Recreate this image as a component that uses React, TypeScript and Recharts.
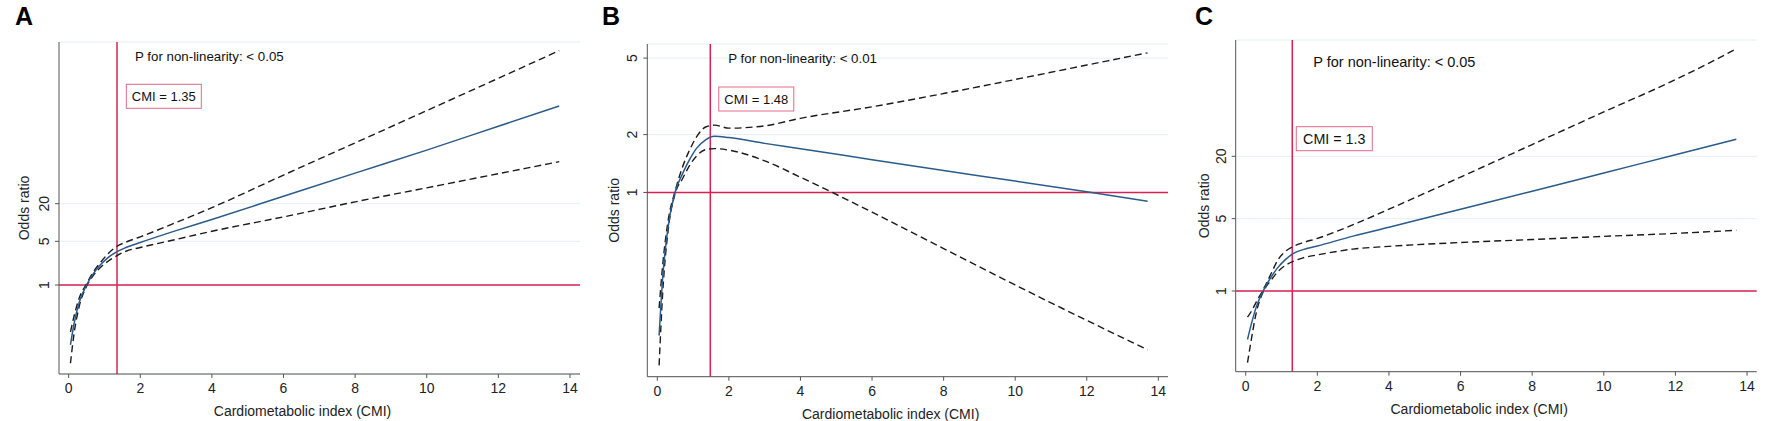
import { LineChart, Line, XAxis, YAxis, CartesianGrid, ReferenceLine, Label } from 'recharts'

// CMI grid the curves were read at
const CMI = [0.05, 0.15, 0.3, 0.5, 0.7, 0.9, 1.1, 1.35, 1.6, 2, 3, 4, 6, 8, 10, 12, 13.7]

// Panel A
const A_OR = [0.11, 0.24, 0.54, 1.0, 1.55, 2.14, 2.75, 3.43, 3.98, 4.79, 7.41, 11.2, 26.3, 61.7, 144, 347, 731]
const A_HI = [0.178, 0.316, 0.63, 1.05, 1.66, 2.34, 3.16, 4.17, 4.85, 5.9, 10.0, 17.3, 57.4, 188, 617, 2030, 5620]
const A_LO = [0.056, 0.166, 0.47, 0.955, 1.45, 1.95, 2.4, 2.95, 3.47, 3.98, 5.37, 7.24, 12.3, 21.4, 35.9, 60.3, 94]
const A_TICKS = [1, 5, 20]

// Panel B
const B_OR = [0.18, 0.36, 0.66, 1.01, 1.245, 1.48, 1.7, 1.88, 1.96, 1.93, 1.8, 1.69, 1.48, 1.3, 1.146, 1.007, 0.9]
const B_HI = [0.25, 0.42, 0.71, 1.02, 1.35, 1.66, 1.95, 2.19, 2.24, 2.16, 2.22, 2.43, 2.79, 3.27, 3.87, 4.6, 5.33]
const B_LO = [0.126, 0.3, 0.63, 0.99, 1.175, 1.38, 1.55, 1.67, 1.69, 1.66, 1.46, 1.2, 0.79, 0.51, 0.33, 0.216, 0.152]
const B_TICKS = [1, 2, 5]

// Panel C
const C_OR = [0.34, 0.47, 0.71, 1.02, 1.35, 1.69, 2.0, 2.32, 2.51, 2.72, 3.39, 4.13, 6.17, 9.2, 13.8, 20.7, 29.2]
const C_HI = [0.56, 0.63, 0.79, 1.05, 1.45, 2.0, 2.4, 2.72, 2.93, 3.22, 4.37, 6.17, 12.6, 26, 53.7, 110, 218]
const C_LO = [0.203, 0.33, 0.63, 1.0, 1.26, 1.54, 1.76, 1.95, 2.09, 2.23, 2.54, 2.7, 2.94, 3.14, 3.37, 3.6, 3.86]
const C_TICKS = [1, 5, 20]

const X_TICKS = [0, 2, 4, 6, 8, 10, 12, 14]

const RED = '#d9234f'
const BOX = '#e26a86'
const BLUE = '#2b5b8a'
const AXIS = '#555555'
const GRID = '#e4eff1'
const SANS = '"Liberation Sans", Arial, sans-serif'

const PANELS = [
  {
    letter: 'A', left: 0, width: 590, top: 42, bottom: 374, plotLeft: 59, plotRight: 580,
    xDomain: [-0.27, 14.28], yDomain: [0.0377, 7727], yTicks: A_TICKS,
    cut: 1.35, cutLabel: 'CMI = 1.35', pText: 'P for non-linearity: < 0.05',
    or: A_OR, hi: A_HI, lo: A_LO,
    pFont: 13.3, boxFont: 13, pDx: 18, pDy: 14, boxDx: 9.3, boxY: 84.3, boxW: 75,
  },
  {
    letter: 'B', left: 590, width: 590, top: 44, bottom: 376.7, plotLeft: 57.3, plotRight: 578,
    xDomain: [-0.28, 14.27], yDomain: [0.11, 5.92], yTicks: B_TICKS,
    cut: 1.48, cutLabel: 'CMI = 1.48', pText: 'P for non-linearity: < 0.01',
    or: B_OR, hi: B_HI, lo: B_LO,
    pFont: 13.3, boxFont: 13, pDx: 18, pDy: 14.3, boxDx: 8.5, boxY: 87, boxW: 75,
  },
  {
    letter: 'C', left: 1180, width: 592, top: 40, bottom: 371.7, plotLeft: 55.7, plotRight: 576.7,
    xDomain: [-0.28, 14.27], yDomain: [0.166, 266], yTicks: C_TICKS,
    cut: 1.3, cutLabel: 'CMI = 1.3', pText: 'P for non-linearity: < 0.05',
    or: C_OR, hi: C_HI, lo: C_LO,
    pFont: 14.5, boxFont: 14.3, pDx: 21, pDy: 21.7, boxDx: 4, boxY: 126.7, boxW: 76,
  },
]

type PanelCfg = (typeof PANELS)[number]

function YTick({ x, y, payload }: any) {
  return (
    <text
      x={x}
      y={y}
      transform={`rotate(-90, ${x}, ${y})`}
      textAnchor="middle"
      fontSize={14}
      fontFamily={SANS}
      fill="#222"
    >
      {payload.value}
    </text>
  )
}

function SplinePanel({ p }: { p: PanelCfg }) {
  const data = CMI.map((c, i) => ({ cmi: c, or: p.or[i], hi: p.hi[i], lo: p.lo[i] }))
  const height = 421
  const margin = { top: p.top, right: p.width - p.plotRight, bottom: height - p.bottom - 40, left: 0 }
  const midY = (p.top + p.bottom) / 2
  const midX = (p.plotLeft + p.plotRight) / 2 - 17

  return (
    <div style={{ position: 'absolute', left: p.left, top: 0 }}>
      <LineChart width={p.width} height={height} data={data} margin={margin}>
        <CartesianGrid horizontal vertical={false} stroke={GRID} strokeWidth={1} />
        <XAxis
          dataKey="cmi"
          type="number"
          domain={p.xDomain}
          ticks={X_TICKS}
          allowDataOverflow
          height={40}
          stroke={AXIS}
          tickSize={4}
          tickMargin={5}
          tick={{ fontSize: 14, fontFamily: SANS, fill: '#222' }}
        >
          <Label
            content={() => (
              <text x={midX} y={p.bottom + 42} textAnchor="middle" fontSize={14} fontFamily={SANS} fill="#222">
                Cardiometabolic index (CMI)
              </text>
            )}
          />
        </XAxis>
        <YAxis
          type="number"
          scale="log"
          domain={p.yDomain}
          ticks={p.yTicks}
          allowDataOverflow
          width={p.plotLeft}
          stroke={AXIS}
          tickSize={4}
          tickMargin={6}
          tick={<YTick />}
        >
          <Label
            content={() => (
              <g>
                <text
                  x={24}
                  y={midY}
                  transform={`rotate(-90, 24, ${midY})`}
                  textAnchor="middle"
                  dominantBaseline="central"
                  fontSize={14}
                  fontFamily={SANS}
                  fill="#222"
                >
                  Odds ratio
                </text>
                <text x={p.letter === 'B' ? 12 : 15} y={25} fontSize={25} fontWeight="bold" fontFamily={SANS} fill="#000">
                  {p.letter}
                </text>
              </g>
            )}
          />
        </YAxis>
        <ReferenceLine y={1} stroke={RED} strokeWidth={1.5} />
        <ReferenceLine x={p.cut} stroke={RED} strokeWidth={1.5}>
          <Label
            content={(props: any) => {
              const vx = props.viewBox?.x ?? 0
              const boxX = vx + p.boxDx
              return (
                <g>
                  <text
                    x={vx + p.pDx}
                    y={p.top + p.pDy}
                    dominantBaseline="central"
                    fontSize={p.pFont}
                    fontFamily={SANS}
                    fill="#111"
                  >
                    {p.pText}
                  </text>
                  <rect x={boxX} y={p.boxY} width={p.boxW} height={24} fill="#fff" stroke={BOX} strokeWidth={1} />
                  <text
                    x={boxX + p.boxW / 2}
                    y={p.boxY + 12.5}
                    textAnchor="middle"
                    dominantBaseline="central"
                    fontSize={p.boxFont}
                    fontFamily={SANS}
                    fill="#111"
                  >
                    {p.cutLabel}
                  </text>
                </g>
              )
            }}
          />
        </ReferenceLine>
        <Line type="monotone" dataKey="hi" stroke="#1a1a1a" strokeWidth={1.4} strokeDasharray="7 4" dot={false} isAnimationActive={false} />
        <Line type="monotone" dataKey="lo" stroke="#1a1a1a" strokeWidth={1.4} strokeDasharray="7 4" dot={false} isAnimationActive={false} />
        <Line type="monotone" dataKey="or" stroke={BLUE} strokeWidth={1.5} dot={false} isAnimationActive={false} />
      </LineChart>
    </div>
  )
}

export default function App() {
  return (
    <div style={{ position: 'absolute', left: 0, top: 0, width: 1772, height: 421, background: '#fff' }}>
      {PANELS.map((p) => (
        <SplinePanel key={p.letter} p={p} />
      ))}
    </div>
  )
}
